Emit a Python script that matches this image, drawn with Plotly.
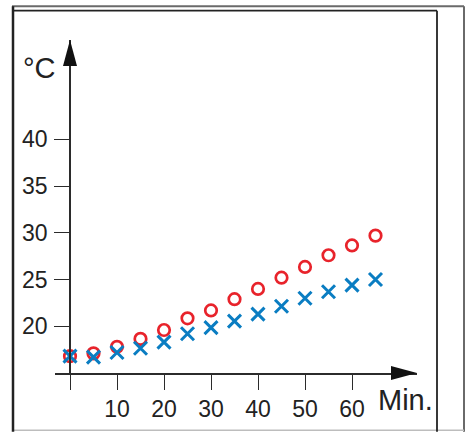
import plotly.graph_objects as go

# Data
minutes = [0, 5, 10, 15, 20, 25, 30, 35, 40, 45, 50, 55, 60, 65]
temp_red = [16.8, 17.1, 17.8, 18.65, 19.6, 20.85, 21.7, 22.9, 24.0, 25.2, 26.35, 27.6, 28.65, 29.7]
temp_blue = [16.8, 16.7, 17.2, 17.65, 18.3, 19.2, 19.85, 20.55, 21.3, 22.15, 23.0, 23.7, 24.4, 25.0]
x_ticks = [0, 10, 20, 30, 40, 50, 60]
x_ticktext = ["", "10", "20", "30", "40", "50", "60"]
y_ticks = [20, 25, 30, 35, 40]

W, H = 467, 434
PL, PR, PT, PB = 55, 417, 40, 375  # plot-area pixel box
X0_PX = 70  # pixel of x=0

def px(x):
    return (x - PL) / (PR - PL)

def py(y):
    return (PB - y) / (PB - PT)

AX = "#2b2b2b"
FONT = "Liberation Sans, Arial, Helvetica, sans-serif"

fig = go.Figure()
fig.add_trace(go.Scatter(
    x=minutes, y=temp_red, mode="markers",
    marker=dict(symbol="circle-open", size=11.5, color="#e8232b",
                line=dict(width=2.7, color="#e8232b")),
    hoverinfo="skip", showlegend=False))
fig.add_trace(go.Scatter(
    x=minutes, y=temp_blue, mode="markers",
    marker=dict(symbol="x-thin-open", size=13, color="#0a7dc2",
                line=dict(width=3, color="#0a7dc2")),
    hoverinfo="skip", showlegend=False))

x_per_px = 10 / 47.0
y_per_px = 5 / 47.0
xmin = -(X0_PX - PL) * x_per_px
xmax = (PR - X0_PX) * x_per_px
ymin = 15
ymax = 15 + (PB - PT) * y_per_px

shapes = []
# arrowheads
shapes.append(dict(type="path", xref="paper", yref="paper", xsizemode="pixel", ysizemode="pixel",
                   xanchor=1, yanchor=0, path="M0,0 L-26,7 L-26,-7 Z",
                   fillcolor="#111", line=dict(width=0)))
shapes.append(dict(type="path", xref="paper", yref="paper", xsizemode="pixel", ysizemode="pixel",
                   xanchor=px(X0_PX), yanchor=1, path="M0,0 L-7,-26 L7,-26 Z",
                   fillcolor="#111", line=dict(width=0)))
# frame lines (decoration)
def line(x0, y0, x1, y1, color, width):
    shapes.append(dict(type="line", xref="paper", yref="paper",
                       x0=px(x0), y0=py(y0), x1=px(x1), y1=py(y1),
                       line=dict(color=color, width=width)))

line(12, 6, 464, 6, "#6a6a6a", 2)
line(464, 6, 464, 434, "#6a6a6a", 2)
line(12, 432.5, 464, 432.5, "#bdbdbd", 1.5)
line(13, 10.5, 437, 10.5, "#222", 1.8)
line(437, 10.5, 437, 434, "#222", 1.8)
line(13, 6, 13, 434, "#222", 2.5)

fig.update_layout(
    width=W, height=H,
    margin=dict(l=PL, r=W - PR, t=PT, b=H - PB, pad=0),
    paper_bgcolor="white", plot_bgcolor="white",
    font=dict(family=FONT, color="#222", size=22),
    xaxis=dict(range=[xmin, xmax], showgrid=False, zeroline=False,
               showline=True, linecolor=AX, linewidth=1.6,
               ticks="outside", ticklen=15, tickwidth=1.4, tickcolor=AX,
               tickvals=x_ticks, ticktext=x_ticktext,
               tickfont=dict(size=23, family=FONT, color="#222")),
    yaxis=dict(range=[ymin, ymax], showgrid=False, zeroline=False,
               anchor="free", position=px(X0_PX),
               showline=True, linecolor=AX, linewidth=1.6,
               ticks="outside", ticklen=15, tickwidth=1.4, tickcolor=AX,
               tickvals=y_ticks, ticklabelstandoff=2,
               tickfont=dict(size=23, family=FONT, color="#222")),
    shapes=shapes,
    annotations=[
        dict(text="°C", xref="paper", yref="paper", x=px(39), y=py(68),
             xanchor="center", yanchor="middle", showarrow=False,
             font=dict(size=29, family=FONT, color="#222")),
        dict(text="Min.", xref="paper", yref="paper", x=px(405), y=py(402),
             xanchor="center", yanchor="middle", showarrow=False,
             font=dict(size=29, family=FONT, color="#222")),
    ],
)

fig.write_html("out.html", config={"displayModeBar": False},
               post_script="document.body.style.margin='0';document.body.style.overflow='hidden';")
